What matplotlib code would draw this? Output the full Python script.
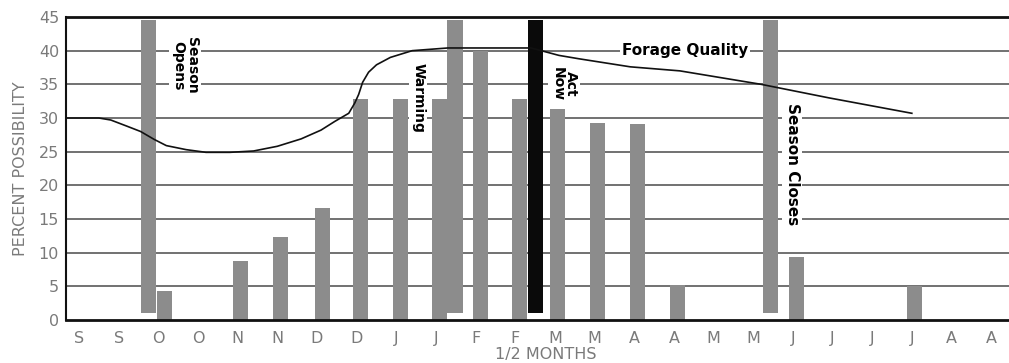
import matplotlib.pyplot as plt
import numpy as np

plt.rcParams['font.family'] = ['DejaVu Sans']

# half-month tick labels
months = ['S', 'S', 'O', 'O', 'N', 'N', 'D', 'D', 'J', 'J', 'F', 'F',
          'M', 'M', 'A', 'A', 'M', 'M', 'J', 'J', 'J', 'J', 'A', 'A']

# percent possibility bars (position in half-months, value)
bar_pos = [2.16, 4.07, 5.08, 6.14, 7.10, 8.11, 9.09, 10.13, 11.11,
           12.07, 13.08, 14.09, 15.10, 18.10, 21.07]
bar_val = [4.3, 8.7, 12.4, 16.7, 32.8, 32.8, 32.8, 40.0, 32.8,
           31.4, 29.3, 29.1, 5.2, 9.3, 5.0]

# tall marker bars (season open / warming / season close) and the "act now" bar
marker_pos = [1.76, 9.48, 17.44]
act_pos = 11.51
marker_bottom = 1.0
marker_top = 44.5

# forage quality curve
forage_x = [-0.33, 0.5, 0.8, 1.2, 1.55, 1.9, 2.2, 2.7, 3.2, 3.8, 4.4, 5.0,
            5.6, 6.1, 6.45, 6.8, 6.95, 7.05, 7.15, 7.3, 7.5, 7.85, 8.4,
            9.3, 11.4, 12.1, 12.6, 13.9, 15.15, 17.2, 18.9, 21.0]
forage_y = [30.0, 30.0, 29.7, 28.8, 28.0, 26.8, 25.9, 25.3, 24.9, 24.9,
            25.1, 25.8, 26.9, 28.2, 29.5, 30.7, 32.2, 33.5, 35.3, 36.8,
            37.9, 39.0, 40.0, 40.4, 40.4, 39.3, 38.8, 37.6, 37.0, 35.0,
            33.0, 30.7]

grey = '#8c8c8c'
label_grey = '#7a7a7a'

fig = plt.figure(figsize=(10.09, 3.63), dpi=100)
ax = fig.add_axes([66/1009, 43/363, (1009-66)/1009, 303/363])

for yv in range(5, 45, 5):
    ax.axhline(yv, color='#4a4a4a', lw=1.1, zorder=1)

ax.bar(bar_pos, bar_val, width=0.38, color=grey, zorder=2)
ax.bar(marker_pos, [marker_top - marker_bottom]*len(marker_pos), bottom=marker_bottom,
       width=0.38, color=grey, zorder=2)
ax.bar([act_pos], [marker_top - marker_bottom], bottom=marker_bottom,
       width=0.38, color='#0a0a0a', zorder=2)

ax.plot(forage_x, forage_y, color='#111111', lw=1.2, zorder=4)

box = dict(facecolor='white', edgecolor='none', pad=1.5)
ax.text(2.67, 42.0, 'Season\nOpens', rotation=270, ha='center', va='top',
        fontsize=10, fontweight='bold', linespacing=0.95, bbox=box, zorder=3)
ax.text(8.55, 38.2, 'Warming', rotation=270, ha='center', va='top',
        fontsize=10, fontweight='bold', bbox=box, zorder=3)
ax.text(12.23, 37.6, 'Act\nNow', rotation=270, ha='center', va='top',
        fontsize=10, fontweight='bold', linespacing=0.95, bbox=box, zorder=3)
ax.text(17.98, 32.2, 'Season Closes', rotation=270, ha='center', va='top',
        fontsize=11, fontweight='bold', bbox=box, zorder=3)
ax.text(15.28, 40.0, 'Forage Quality', ha='center', va='center',
        fontsize=11, fontweight='bold', bbox=box, zorder=3)

ax.set_xlim(-0.33, 23.45)
ax.set_ylim(0, 45)
ax.set_xticks(np.arange(len(months)))
ax.set_xticklabels(months)
ax.set_yticks(range(0, 50, 5))
ax.tick_params(length=0, labelsize=11.5, colors=label_grey)
ax.tick_params(axis='x', pad=8)
ax.tick_params(axis='y', pad=5)

ax.spines['right'].set_visible(False)
ax.spines['top'].set_linewidth(2)
ax.spines['bottom'].set_linewidth(2)
ax.spines['left'].set_linewidth(1.5)
for s in ['top', 'bottom', 'left']:
    ax.spines[s].set_color('#111111')

ax.set_ylabel('PERCENT POSSIBILITY', fontsize=11.5, color=label_grey, labelpad=8)
fig.text(546/1009, 1/363, '1/2 MONTHS', ha='center', va='bottom',
         fontsize=11.5, color=label_grey)

fig.savefig('out.png', dpi=100)
